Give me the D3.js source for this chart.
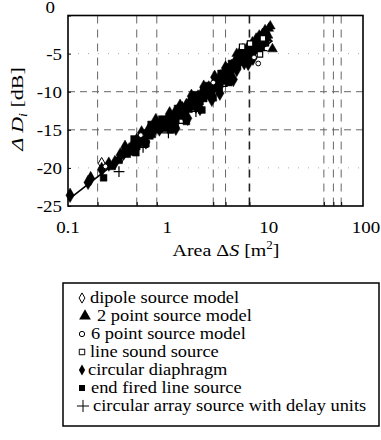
<!DOCTYPE html>
<html><head><meta charset="utf-8">
<script src="https://cdn.jsdelivr.net/npm/d3@7"></script>
</head><body style="margin:0;background:#fff"><svg id="c" width="381" height="440" style="display:block"></svg>
<script>
// ---- data ----
const xTicks = [0.1, 1, 10, 100];
const xTickLabels = ["0.1", "1", "10", "100"];
const yTicks = [0, -5, -10, -15, -20, -25];
const xGridDashed = [0.2, 0.5, 0.8, 3, 4, 7, 40, 50, 60];
const yGridDashed = [-10, -15];
const yGridDotted = [-5, -20];
const fitLineX = [0.1, 12];
const fitLineY = [-24.2, -3.3];

const dipole = [[0.22,-19.4],[0.35,-18.6],[1.0,-14.0],[2.5,-10.2],[6.5,-4.9]];
const twoPoint = [[5.2,-5.0],[6.0,-4.4],[6.8,-4.0],[7.5,-3.5],[8.2,-3.0],[8.8,-2.6],[9.5,-2.4],[10.3,-2.2],[11.0,-1.7],[11.4,-1.4],[10.6,-3.0],[12.0,-4.4],[9.8,-3.6],[10.1,-1.9],[9.0,-4.2],[10.8,-2.6]];
const sixPoint = [[8.6,-6.3],[0.24,-19.8],[0.55,-15.7],[3.0,-8.8],[7.8,-5.5]];
const lineSource = [[5.9,-4.1],[7.1,-3.7],[8.95,-5.1],[9.6,-3.0]];
const circDiaphragm = [[0.105,-23.6],[0.16,-21.9],[0.17,-21.4],[0.22,-20.2],[0.26,-19.5],[0.3,-19.3],[0.34,-18.3],[0.37,-18.0],[0.42,-17.6],[0.45,-17.2],[0.48,-16.8],[0.5,-16.4],[0.55,-16.2],[0.6,-15.9],[0.65,-15.2],[0.7,-15.0],[0.75,-14.9],[0.8,-14.3],[0.9,-14.1],[1.0,-13.8],[1.1,-13.4],[1.2,-13.0],[1.3,-12.6],[1.45,-12.2],[1.6,-11.8],[1.75,-11.3],[1.9,-11.0],[2.1,-10.7],[2.3,-10.2],[2.5,-9.8],[2.7,-9.5],[3.0,-9.2],[3.3,-8.6],[3.6,-8.0],[3.9,-7.6],[4.2,-7.2],[4.6,-6.7],[5.0,-6.1],[5.5,-5.6],[6.0,-5.2],[6.6,-4.7],[7.2,-4.3],[8.0,-3.8],[9.0,-3.3],[10,-2.8],[0.62,-16.6],[0.85,-14.9],[1.15,-14.2],[1.5,-13.0],[2.0,-11.9],[2.8,-10.4],[3.4,-9.5],[4.4,-8.0],[5.2,-7.1],[6.2,-6.2],[7.6,-5.6],[0.38,-17.3],[0.56,-15.4],[0.78,-13.8],[1.08,-12.9],[1.38,-11.9],[1.8,-10.6],[2.4,-9.4],[3.1,-8.1],[4.0,-6.9],[5.6,-5.0],[8.4,-3.5],[1.25,-14.8],[1.65,-13.5],[2.2,-12.2],[2.9,-11.0],[3.5,-10.2],[4.8,-8.4],[6.8,-6.3]];
const endFired = [[0.23,-21.3],[0.28,-19.8],[0.33,-19.0],[0.4,-18.2],[0.44,-17.9],[0.5,-17.2],[0.52,-16.9],[0.58,-16.6],[0.62,-16.8],[0.68,-15.8],[0.72,-15.6],[0.85,-15.0],[0.95,-14.8],[1.05,-14.5],[1.15,-14.0],[1.25,-13.8],[1.4,-13.2],[1.55,-12.8],[1.7,-12.3],[1.85,-12.0],[2.0,-11.6],[2.2,-11.3],[2.4,-10.9],[2.6,-10.5],[2.9,-10.0],[3.2,-9.6],[3.5,-9.0],[3.8,-8.6],[4.1,-8.1],[4.5,-7.6],[4.9,-7.0],[5.3,-6.6],[5.8,-6.0],[6.3,-5.5],[6.9,-5.2],[7.5,-4.8],[8.3,-4.5],[9.2,-4.0],[10.2,-3.6],[0.49,-18.0],[0.47,-16.2],[0.9,-13.6],[1.3,-12.2],[1.9,-10.4],[2.6,-9.2],[3.6,-7.6],[4.6,-6.3],[0.7,-14.3],[1.1,-15.0],[1.6,-13.9],[2.3,-12.4],[3.0,-10.8],[4.3,-8.8]];
const circArray = [[0.33,-20.5],[1.32,-14.15],[1.05,-15.4],[3.7,-9.3],[0.58,-17.3],[2.0,-12.6],[9.4,-4.6]];

const legendLabels = ["dipole source model","2 point source model","6 point source model","line sound source","circular diaphragm","end fired line source","circular array source with delay units"];

// ---- chart ----
const FONT = "'Liberation Serif'";
const svg = d3.select("#c");
const L = 68, R = 363, T = 15.5, B = 206;
const x = d3.scaleLog().domain([0.1, 100]).range([L, R]);
const y = d3.scaleLinear().domain([-25, 0]).range([B, T]);

// text drawn at a base size of 20 and scaled into place
function styleText(t) {
  return t.attr("font-size", 20).style("font-family", FONT).attr("fill", "#000");
}
function anchorAt(sel, mode) {
  sel.each(function () {
    const w = this.getComputedTextLength();
    d3.select(this).attr("x", mode === "end" ? -w : mode === "middle" ? -w / 2 : 0);
  });
}

// grid
svg.append("g").selectAll("line").data(xGridDashed).join("line")
  .attr("x1", d => x(d)).attr("x2", d => x(d)).attr("y1", T).attr("y2", B)
  .attr("stroke", d => d === 7 ? "#222" : "#666").attr("stroke-width", d => d === 7 ? 1.6 : 1)
  .attr("stroke-dasharray", "8,6");
svg.append("g").selectAll("line").data(yGridDashed).join("line")
  .attr("x1", L).attr("x2", R).attr("y1", d => y(d)).attr("y2", d => y(d))
  .attr("stroke", "#666").attr("stroke-width", 1).attr("stroke-dasharray", "7,5");
svg.append("g").selectAll("line").data(yGridDotted).join("line")
  .attr("x1", L).attr("x2", R).attr("y1", d => y(d)).attr("y2", d => y(d))
  .attr("stroke", "#aaa").attr("stroke-width", 1).attr("stroke-dasharray", "1,9");

// inward ticks through d3 axes
const gxt = svg.append("g").attr("transform", `translate(0,${B})`)
  .call(d3.axisBottom(x).tickValues(xGridDashed).tickSize(-4).tickFormat(""));
gxt.select(".domain").remove();
const gyt = svg.append("g").attr("transform", `translate(${L},0)`)
  .call(d3.axisLeft(y).tickValues(yTicks).tickSize(-3).tickFormat(""));
gyt.select(".domain").remove();

// tick labels
const xLab = svg.append("g").selectAll("text").data(xTicks).join("text")
  .attr("transform", (d, i) => `translate(${x(d) + [0, 1, 4, 3][i]},233) scale(0.95,0.85)`)
  .attr("y", 0).text((d, i) => xTickLabels[i]);
styleText(xLab);
anchorAt(xLab, "middle");
const yLab = svg.append("g").selectAll("text").data(yTicks).join("text")
  .attr("transform", d => `translate(${d === 0 ? 55 : 62},${d === 0 ? 13 : y(d) + 6}) scale(0.95,0.85)`)
  .attr("y", 0).text(d => d === 0 ? "0" : "-" + Math.abs(d));
styleText(yLab);
anchorAt(yLab, "end");

// frame
svg.append("rect").attr("x", L).attr("y", T).attr("width", R - L).attr("height", B - T)
  .attr("fill", "none").attr("stroke", "#000").attr("stroke-width", 1.6);

// fit line
svg.append("path").datum(d3.zip(fitLineX, fitLineY))
  .attr("d", d3.line().x(d => x(d[0])).y(d => y(d[1])))
  .attr("stroke", "#000").attr("stroke-width", 1.6).attr("fill", "none");

// series
const series = [
  {data: dipole, type: d3.symbolDiamond, size: 40, fill: "none", stroke: "#000", sw: 1},
  {data: circDiaphragm, type: d3.symbolDiamond, size: 60, fill: "#000", stroke: "#000", sw: 0.5},
  {data: endFired, type: d3.symbolSquare, size: 46, fill: "#000", stroke: "#000", sw: 0.5},
  {data: twoPoint, type: d3.symbolTriangle, size: 42, fill: "#000", stroke: "#000", sw: 0.5},
  {data: circArray, type: d3.symbolPlus, size: 40, fill: "none", stroke: "#000", sw: 1.2},
  {data: sixPoint, type: d3.symbolCircle, size: 18, fill: "#fff", stroke: "#000", sw: 1},
  {data: lineSource, type: d3.symbolSquare, size: 30, fill: "#fff", stroke: "#000", sw: 1.2}
];
series.forEach(s => {
  svg.append("g").selectAll("path").data(s.data).join("path")
    .attr("transform", d => `translate(${x(d[0])},${y(d[1])})`)
    .attr("d", d3.symbol().type(s.type).size(s.size))
    .attr("fill", s.fill).attr("stroke", s.stroke).attr("stroke-width", s.sw);
});

// axis titles
const xt = styleText(svg.append("text").attr("transform", "translate(226,256) scale(1,0.88)").attr("y", 0));
xt.append("tspan").text("Area \u0394");
xt.append("tspan").style("font-style", "italic").text("S");
xt.append("tspan").text(" [m");
xt.append("tspan").attr("font-size", 13).attr("dy", -8).text("2");
xt.append("tspan").attr("dy", 8).text("]");
anchorAt(xt, "middle");

const yt = styleText(svg.append("text").attr("transform", "translate(23,109) rotate(-90) scale(1.1,0.88)").attr("y", 0));
yt.append("tspan").style("font-style", "italic").text("\u0394 D");
yt.append("tspan").style("font-style", "italic").attr("font-size", 13).attr("dy", 4).text("i");
yt.append("tspan").attr("dy", -4).text(" [dB]");
anchorAt(yt, "middle");

// legend
svg.append("rect").attr("x", 63).attr("y", 283).attr("width", 316).attr("height", 143)
  .attr("fill", "#fff").attr("stroke", "#000").attr("stroke-width", 1.5);
const legSym = [
  {type: d3.symbolDiamond, size: 30, fill: "none", sw: 1, dx: 0},
  {type: d3.symbolTriangle, size: 60, fill: "#000", sw: 0, dx: 3},
  {type: d3.symbolCircle, size: 22, fill: "none", sw: 1, dx: 0},
  {type: d3.symbolSquare, size: 30, fill: "none", sw: 1, dx: 0},
  {type: d3.symbolDiamond, size: 34, fill: "#000", sw: 0, dx: 0},
  {type: d3.symbolSquare, size: 36, fill: "#000", sw: 0, dx: 0},
  {type: d3.symbolPlus, size: 50, fill: "none", sw: 1, dx: 1}
];
const legX = [90, 97, 91, 90, 88, 91, 93];
const lg = svg.append("g").selectAll("g").data(legendLabels).join("g")
  .attr("transform", (d, i) => `translate(0,${303 + i * 18})`);
lg.append("path").attr("transform", (d, i) => `translate(${82 + legSym[i].dx},-5)`)
  .attr("d", (d, i) => d3.symbol().type(legSym[i].type).size(legSym[i].size)())
  .attr("fill", (d, i) => legSym[i].fill).attr("stroke", "#000").attr("stroke-width", (d, i) => legSym[i].sw);
const legText = lg.append("text").attr("transform", (d, i) => `translate(${legX[i]},0) scale(0.92,0.8)`)
  .attr("x", 0).attr("y", 0).text(d => d);
styleText(legText);
</script></body></html>
